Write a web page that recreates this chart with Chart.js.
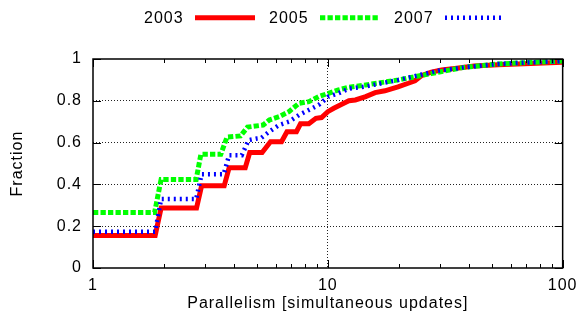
<!DOCTYPE html>
<html><head><meta charset="utf-8">
<script src="https://cdn.jsdelivr.net/npm/chart.js@4.4.1/dist/chart.umd.min.js"></script>
<style>html,body{margin:0;padding:0;background:#fff;}</style>
</head><body>
<canvas id="c" width="584" height="322"></canvas>
<script>
const seriesNames = ['2003', '2005', '2007'];
const seriesColors = ['#ff0000', '#00ff00', '#0000ff'];

const x2003 = [1, 1.84, 1.95, 2.76, 2.9, 3.62, 3.8, 4.45, 4.65, 5.25, 5.7, 6.35, 6.7, 7.35, 7.65, 8.3, 8.9, 9.4, 10.0, 10.6, 11.3, 12.3, 13.1, 14.5, 15.9, 17.5, 19.9, 22, 23.5, 25, 27.6, 30.5, 34.7, 42, 53, 73, 100];
const y2003 = [0.155, 0.155, 0.287, 0.287, 0.393, 0.393, 0.48, 0.48, 0.553, 0.553, 0.604, 0.604, 0.652, 0.652, 0.69, 0.69, 0.716, 0.72, 0.748, 0.764, 0.78, 0.80, 0.804, 0.82, 0.839, 0.848, 0.867, 0.884, 0.896, 0.92, 0.937, 0.947, 0.955, 0.966, 0.972, 0.979, 0.985];

const x2005 = [1, 1.83, 1.95, 2.75, 2.88, 3.5, 3.72, 4.25, 4.55, 5.3, 5.63, 6.2, 6.83, 7.54, 8.3, 9.14, 10.06, 11.1, 12.3, 14.5, 20, 27.5, 38, 53, 73, 100];
const y2005 = [0.266, 0.266, 0.424, 0.424, 0.544, 0.544, 0.626, 0.632, 0.674, 0.684, 0.708, 0.724, 0.748, 0.788, 0.796, 0.82, 0.836, 0.852, 0.865, 0.876, 0.90, 0.93, 0.96, 0.976, 0.984, 0.99];

const x2007 = [1, 1.84, 1.95, 2.75, 2.9, 3.6, 3.8, 4.3, 4.6, 5.0, 5.2, 5.63, 6.2, 6.83, 7.54, 8.3, 9.14, 10.06, 11.1, 12.3, 14.5, 20, 29.5, 38, 53, 73, 100];
const y2007 = [0.174, 0.174, 0.33, 0.33, 0.448, 0.448, 0.54, 0.54, 0.612, 0.62, 0.622, 0.652, 0.684, 0.70, 0.732, 0.756, 0.78, 0.82, 0.836, 0.858, 0.869, 0.90, 0.944, 0.96, 0.976, 0.984, 0.99];

const yTicks = [0, 0.2, 0.4, 0.6, 0.8, 1];
const xMajorTicks = [1, 10, 100];
const xMinorTicks = [2, 3, 4, 5, 6, 7, 8, 9, 20, 30, 40, 50, 60, 70, 80, 90];
const xTitle = 'Parallelism [simultaneous updates]';
const yTitle = 'Fraction';

const toPts = (xs, ys) => xs.map((x, i) => ({x: x, y: ys[i]}));
const dashes = [[], [5.3, 2.2], [2, 4]];
const widths = [5, 5, 4.5];

Chart.defaults.font.family = '"Liberation Sans", Arial, sans-serif';
Chart.defaults.font.size = 16;
Chart.defaults.color = '#000';

const frame = {
  id: 'frame',
  beforeDraw(chart) { chart.ctx.letterSpacing = '1px'; },
  afterDatasetsDraw(chart) {
    const {ctx, chartArea: a, scales: {x, y}} = chart;
    ctx.save();
    ctx.strokeStyle = '#000';
    ctx.lineWidth = 1;
    ctx.setLineDash([]);
    ctx.beginPath();
    const al = p => Math.round(p) + 0.5;
    xMajorTicks.forEach(v => { const p = al(x.getPixelForValue(v));
      ctx.moveTo(p, a.bottom); ctx.lineTo(p, a.bottom - 8);
      ctx.moveTo(p, a.top); ctx.lineTo(p, a.top + 8); });
    xMinorTicks.forEach(v => { const p = al(x.getPixelForValue(v));
      ctx.moveTo(p, a.bottom); ctx.lineTo(p, a.bottom - 4);
      ctx.moveTo(p, a.top); ctx.lineTo(p, a.top + 4); });
    yTicks.forEach(v => { const p = al(y.getPixelForValue(v));
      ctx.moveTo(a.left, p); ctx.lineTo(a.left + 8, p);
      ctx.moveTo(a.right, p); ctx.lineTo(a.right - 8, p); });
    ctx.stroke();
    ctx.lineWidth = 1.5;
    ctx.strokeRect(a.left, a.top, a.right - a.left, a.bottom - a.top);
    ctx.restore();
  },
  afterDraw(chart) {
    const ctx = chart.ctx;
    ctx.save();
    ctx.letterSpacing = '1px';
    ctx.font = '16px "Liberation Sans", Arial, sans-serif';
    ctx.fillStyle = '#000';
    ctx.textBaseline = 'alphabetic';
    ctx.textAlign = 'left';
    const x0 = 144, step = 125, ly = 17.7;
    seriesNames.forEach((n, i) => {
      const tx = x0 + i * step;
      ctx.fillText(n, tx, 23.3);
      ctx.beginPath();
      ctx.strokeStyle = seriesColors[i];
      ctx.lineWidth = widths[i];
      ctx.setLineDash(dashes[i]);
      ctx.moveTo(tx + 51, ly);
      ctx.lineTo(tx + 111, ly);
      ctx.stroke();
    });
    ctx.restore();
  }
};

new Chart(document.getElementById('c'), {
  type: 'line',
  data: {
    datasets: [
      {label: seriesNames[0], data: toPts(x2003, y2003), borderColor: seriesColors[0], borderWidth: widths[0], borderDash: dashes[0], order: 2},
      {label: seriesNames[1], data: toPts(x2005, y2005), borderColor: seriesColors[1], borderWidth: widths[1], borderDash: dashes[1], order: 1},
      {label: seriesNames[2], data: toPts(x2007, y2007), borderColor: seriesColors[2], borderWidth: widths[2], borderDash: dashes[2], order: 0}
    ]
  },
  options: {
    responsive: false,
    animation: false,
    devicePixelRatio: 1,
    layout: {padding: {top: 59, right: 19, bottom: 0, left: 0}},
    elements: {point: {radius: 0}, line: {tension: 0, fill: false}},
    plugins: {legend: {display: false}, tooltip: {enabled: false}},
    scales: {
      x: {
        type: 'logarithmic', min: 1, max: 100,
        afterBuildTicks: s => { s.ticks = [...xMajorTicks, ...xMinorTicks].sort((a, b) => a - b).map(v => ({value: v})); },
        afterFit: s => { s.height = 54; },
        ticks: {autoSkip: false, maxRotation: 0, padding: 8, color: '#000',
          callback: v => xMajorTicks.includes(v) ? String(v) : ''},
        grid: {drawTicks: false, lineWidth: 1,
          color: c => (c.tick && c.tick.value === 10) ? '#222' : 'rgba(0,0,0,0)'},
        border: {display: false, dash: [1, 2]},
        title: {display: true, text: xTitle, color: '#000', padding: {top: 0, bottom: 9}}
      },
      y: {
        min: 0, max: 1,
        afterBuildTicks: s => { s.ticks = yTicks.map(v => ({value: v})); },
        afterFit: s => { s.width = 93; },
        ticks: {padding: 11, color: '#000', callback: v => String(v)},
        grid: {drawTicks: false, lineWidth: 1,
          color: c => (c.tick && c.tick.value > 0 && c.tick.value < 1) ? '#222' : 'rgba(0,0,0,0)'},
        border: {display: false, dash: [1, 2]},
        title: {display: true, text: yTitle, color: '#000', padding: {top: 8, bottom: 0}}
      }
    }
  },
  plugins: [frame]
});
</script>
</body></html>
